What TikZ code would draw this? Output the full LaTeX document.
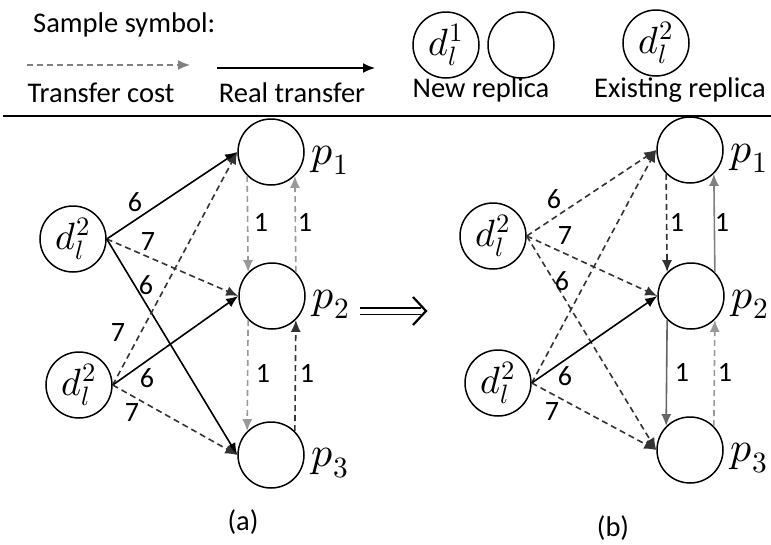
\documentclass[tikz,border=0pt]{standalone}
\usepackage{fontspec}
\usepackage{unicode-math}
\setmainfont{Carlito}
\usetikzlibrary{arrows.meta,positioning}

\tikzset{
  replica/.style={circle, draw, line width=1.5pt, minimum size=66pt, inner sep=0pt,
    font=\fontsize{38}{44}\selectfont},
  costarrow/.style={-{Latex[length=12pt,width=10pt]}, line width=1.6pt,
    dash pattern=on 6pt off 4pt, black!80},
  realarrow/.style={-{Latex[length=12pt,width=10pt]}, line width=1.6pt},
  wlabel/.style={font=\fontsize{28}{32}\selectfont, inner sep=0pt},
  plabel/.style={font=\fontsize{42}{46}\selectfont, inner sep=0pt},
  legendtext/.style={font=\fontsize{28.5}{32}\selectfont, inner sep=0pt},
}

\begin{document}
\begin{tikzpicture}[x=1pt, y=-1pt]
  \useasboundingbox (0,0) rectangle (771,544);

  % legend
  \node[legendtext, anchor=west] (sample) at (33,25) {Sample symbol:};
  \coordinate (cs) at (27,65);  \coordinate (ce) at (190,65);
  \coordinate (rs) at (217,68); \coordinate (re) at (375,68);
  \draw[costarrow, black!50] (cs) -- (ce);
  \draw[realarrow] (rs) -- (re);
  \node[legendtext] (tcost) at (101,93) {Transfer cost};
  \node[legendtext] (rtrans) at (292,93) {Real transfer};
  \node[replica] (newd) at (446,45) {$d_l^1$};
  \node[replica] (newe) at (521,45) {};
  \node[legendtext] (newr) at (481,90) {New replica};
  \node[replica] (exd) at (656,43) {$d_l^2$};
  \node[legendtext] (exr) at (680,90) {Existing replica};
  \coordinate (hl) at (3,116); \coordinate (hr) at (771,116);
  \draw[line width=1.8pt] (hl) -- (hr);

  % (a)
  \node[replica] (A1) at (73,239) {$d_l^2$};
  \node[replica] (A2) at (79,385) {$d_l^2$};
  \node[replica] (P1) at (271,152) {};
  \node[replica] (P2) at (272,296) {};
  \node[replica] (P3) at (271,455) {};
  \node[plabel, right=7pt of P1, yshift=-8pt] (P1l) {$p_1$};
  \node[plabel, right=7pt of P2, yshift=-8pt] (P2l) {$p_2$};
  \node[plabel, right=7pt of P3, yshift=-8pt] (P3l) {$p_3$};

  \draw[realarrow] (A1.east) -- (P1.west);
  \draw[costarrow] (A1.east) -- (P2.west);
  \draw[realarrow] (A1.east) -- (P3.west);
  \draw[costarrow] (A2.east) -- (P1.west);
  \draw[realarrow] (A2.east) -- (P2.west);
  \draw[costarrow] (A2.east) -- (P3.west);
  \draw[costarrow, black!40] (P1.-135) -- (P2.135);
  \draw[costarrow, black!40] (P2.45) -- (P1.-45);
  \draw[costarrow, black!40] (P2.-135) -- (P3.135);
  \draw[costarrow] (P3.45) -- (P2.-45);

  \node[wlabel] (a1) at (135,202) {6};
  \node[wlabel] (a2) at (148,242) {7};
  \node[wlabel] (a3) at (146,285) {6};
  \node[wlabel] (a4) at (118,333) {7};
  \node[wlabel] (a5) at (147,378) {6};
  \node[wlabel] (a6) at (132,413) {7};
  \node[wlabel] (a7) at (261,222) {1};
  \node[wlabel] (a8) at (305,222) {1};
  \node[wlabel] (a9) at (263,373) {1};
  \node[wlabel] (a10) at (307,373) {1};
  \node[legendtext] (capa) at (243,522) {(a)};

  % step to (b)
  \coordinate (goa) at (360,311); \coordinate (gob) at (421,311);
  \coordinate (gotip) at (426,311);
  \draw[double, double distance=5pt, line width=1.6pt] (goa) -- (gob);
  \draw[line width=2.2pt, line join=miter] (gotip) ++(-13,-14) -- (gotip) -- ++(-13,14);

  % (b)
  \node[replica] (B1) at (493,236) {$d_l^2$};
  \node[replica] (B2) at (498,383) {$d_l^2$};
  \node[replica] (Q1) at (690,150) {};
  \node[replica] (Q2) at (691,296) {};
  \node[replica] (Q3) at (690,450) {};
  \node[plabel, right=7pt of Q1, yshift=-8pt] (Q1l) {$p_1$};
  \node[plabel, right=7pt of Q2, yshift=-8pt] (Q2l) {$p_2$};
  \node[plabel, right=7pt of Q3, yshift=-8pt] (Q3l) {$p_3$};

  \draw[costarrow] (B1.east) -- (Q1.west);
  \draw[costarrow] (B1.east) -- (Q2.west);
  \draw[costarrow] (B1.east) -- (Q3.west);
  \draw[costarrow] (B2.east) -- (Q1.west);
  \draw[realarrow] (B2.east) -- (Q2.west);
  \draw[costarrow] (B2.east) -- (Q3.west);
  \draw[costarrow] (Q1.-135) -- (Q2.135);
  \draw[realarrow, black!50] (Q2.45) -- (Q1.-45);
  \draw[realarrow, black!60] (Q2.-135) -- (Q3.135);
  \draw[costarrow, black!40] (Q3.45) -- (Q2.-45);

  \node[wlabel] (b1) at (554,199) {6};
  \node[wlabel] (b2) at (565,236) {7};
  \node[wlabel] (b3) at (562,281) {6};
  \node[wlabel] (b5) at (565,376) {6};
  \node[wlabel] (b6) at (552,412) {7};
  \node[wlabel] (b7) at (677,222) {1};
  \node[wlabel] (b8) at (722,222) {1};
  \node[wlabel] (b9) at (682,372) {1};
  \node[wlabel] (b10) at (725,372) {1};
  \node[legendtext] (capb) at (613,528) {(b)};
\end{tikzpicture}
\end{document}
